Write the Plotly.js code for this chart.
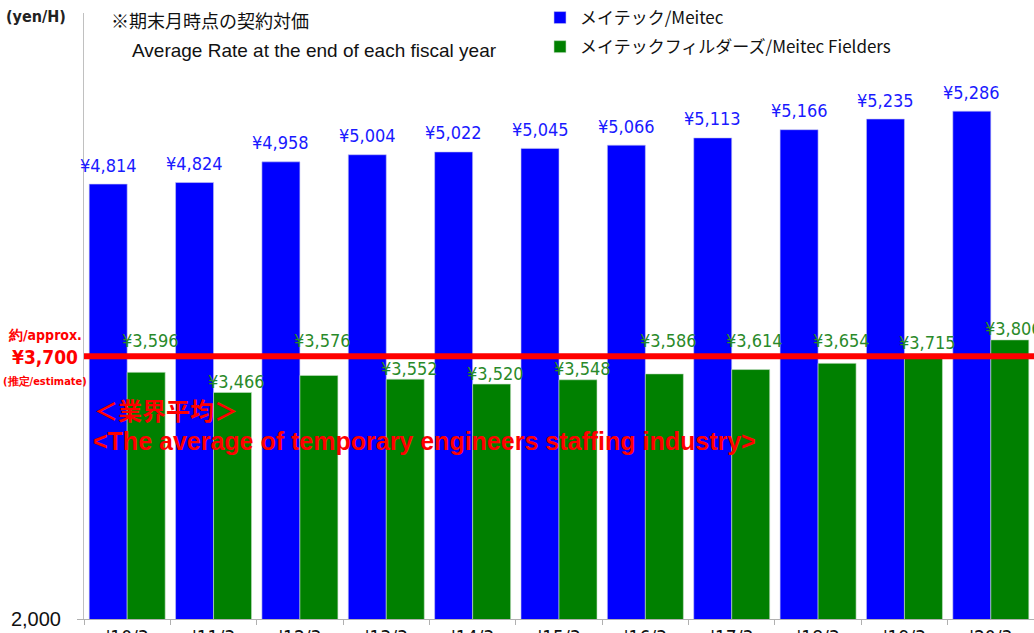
<!DOCTYPE html>
<html>
<head>
<meta charset="utf-8">
<script src="https://cdn.plot.ly/plotly-3.0.1.min.js"></script>
<style>html,body{margin:0;padding:0;background:#fff;}#chart{width:1034px;height:633px;}</style>
</head>
<body>
<div id="chart"></div>
<script>
const categories = ["'10/3","'11/3","'12/3","'13/3","'14/3","'15/3","'16/3","'17/3","'18/3","'19/3","'20/3"];
const meitec = [4814,4824,4958,5004,5022,5045,5066,5113,5166,5235,5286];
const fielders = [3596,3466,3576,3552,3520,3548,3586,3614,3654,3715,3806];
const industryAverage = 3700;
const seriesNames = ["メイテック/Meitec","メイテックフィルダーズ/Meitec Fielders"];
const yTickVals = [2000];
const yTickText = ["2,000"];

const W = 1034, H = 633;
const margin = {l:84, r:0, t:13, b:14, autoexpand:false};
const yRange = [2000, 5921];
const xRange = [-0.5, categories.length - 0.5];
const bargap = 0.12;
const plotW = W - margin.l - margin.r;
const plotH = H - margin.t - margin.b;
const pxPerUnit = plotH / (yRange[1] - yRange[0]);
const catW = plotW / categories.length;
const barW = catW * (1 - bargap) / 2;
const off = barW / 2;

const numFont = "DejaVu Sans Condensed, Liberation Sans Narrow, sans-serif";
const fmt = v => '¥' + v.toLocaleString('en-US');

const traces = [
  {type:'bar', name:seriesNames[0], x:categories, y:meitec, marker:{color:'#0000ff', line:{color:'#c8c8f0', width:0.6}}, hoverinfo:'skip', legendgroup:'g0'},
  {type:'bar', name:seriesNames[1], x:categories, y:fielders, marker:{color:'#008000', line:{color:'#c8e0c8', width:0.6}}, hoverinfo:'skip', legendgroup:'g1'}
];

const annotations = [];
meitec.forEach((v,i)=>{
  annotations.push({x:categories[i], y:v, xref:'x', yref:'y', xshift:-off, yshift:19, yanchor:'middle', xanchor:'center',
    text:fmt(v), showarrow:false, font:{family:numFont, size:18, color:'#1a1aff'}});
});
const linePx = (industryAverage - yRange[0]) * pxPerUnit;
fielders.forEach((v,i)=>{
  const topPx = (v - yRange[0]) * pxPerUnit;
  let y = v, ys = 11;
  if (Math.abs(topPx + ys - linePx) < 10) { y = industryAverage; ys = 16; }
  annotations.push({x:categories[i], y:y, xref:'x', yref:'y', xshift:off+4, yshift:ys, yanchor:'middle', xanchor:'center',
    text:fmt(v), showarrow:false, font:{family:numFont, size:18, color:'#2a8a2a'}});
});
const px2x = px => (px - margin.l) / plotW;
const py2y = py => (H - margin.b - py) / plotH;
annotations.push(
  {xref:'paper', yref:'paper', x:px2x(4), y:py2y(17), xanchor:'left', yanchor:'middle', showarrow:false,
   text:'<b>(yen/H)</b>', font:{family:numFont, size:16, color:'#222'}},
  {xref:'paper', yref:'paper', x:px2x(109), y:py2y(20), xanchor:'left', yanchor:'middle', showarrow:false,
   text:'※期末月時点の契約対価', font:{family:'Noto Sans CJK JP, sans-serif', size:18, color:'#111'}},
  {xref:'paper', yref:'paper', x:px2x(130), y:py2y(50), xanchor:'left', yanchor:'middle', showarrow:false,
   text:'Average Rate at the end of each fiscal year', font:{family:'Liberation Sans, Arial, sans-serif', size:19, color:'#111'}},
  {xref:'paper', yref:'paper', x:px2x(45), y:py2y(335), xanchor:'center', yanchor:'middle', showarrow:false,
   text:'<b>約/approx.</b>', font:{family:numFont, size:14, color:'#ff0000'}},
  {xref:'paper', yref:'paper', x:px2x(45), y:py2y(357), xanchor:'center', yanchor:'middle', showarrow:false,
   text:'<b>' + fmt(industryAverage) + '</b>', font:{family:numFont, size:19, color:'#ff0000'}},
  {xref:'paper', yref:'paper', x:px2x(45), y:py2y(381), xanchor:'center', yanchor:'middle', showarrow:false,
   text:'<b>(推定/estimate)</b>', font:{family:numFont, size:11, color:'#ff0000'}},
  {xref:'paper', yref:'paper', x:px2x(92), y:py2y(409), xanchor:'left', yanchor:'middle', showarrow:false,
   text:'<b>＜業界平均＞</b>', font:{family:'Noto Sans CJK JP, sans-serif', size:24, color:'#ff0000'}},
  {xref:'paper', yref:'paper', x:px2x(91), y:py2y(441), xanchor:'left', yanchor:'middle', showarrow:false,
   text:'<b>&lt;The average of temporary engineers staffing industry&gt;</b>', font:{family:'Liberation Sans, Arial, sans-serif', size:25, color:'#ff0000'}}
);

const layout = {
  width:W, height:H, margin:margin,
  paper_bgcolor:'#fff', plot_bgcolor:'#fff',
  barmode:'group', bargap:bargap, bargroupgap:0,
  showlegend:true,
  legend:{x:px2x(540), y:py2y(0), xanchor:'left', yanchor:'top', bgcolor:'rgba(0,0,0,0)', borderwidth:0,
    font:{family:'Noto Sans CJK JP, sans-serif', size:17, color:'#111'}, tracegroupgap:4, itemwidth:30},
  xaxis:{type:'category', range:xRange, autorange:false, showline:true, linecolor:'#b0b0b0', linewidth:1, ticks:'outside', ticklen:5, tickcolor:'#b0b0b0',
    tickson:'boundaries', showgrid:false, zeroline:false, ticklabelstandoff:1,
    tickfont:{family:numFont, size:19, color:'#111'}, fixedrange:true},
  yaxis:{range:yRange, autorange:false, showline:true, linecolor:'#c0c0c0', linewidth:1, ticks:'outside', ticklen:6, tickcolor:'#b0b0b0',
    tickvals:yTickVals, ticktext:yTickText, showgrid:false, zeroline:false, ticklabelstandoff:12,
    tickfont:{family:'Liberation Sans, Arial, sans-serif', size:20, color:'#111'}, fixedrange:true},
  shapes:[{type:'line', xref:'paper', yref:'y', x0:0, x1:1, y0:industryAverage, y1:industryAverage,
    line:{color:'#ff0000', width:6}}],
  annotations:annotations
};
Plotly.newPlot('chart', traces, layout, {displayModeBar:false, staticPlot:true});
</script>
</body>
</html>
